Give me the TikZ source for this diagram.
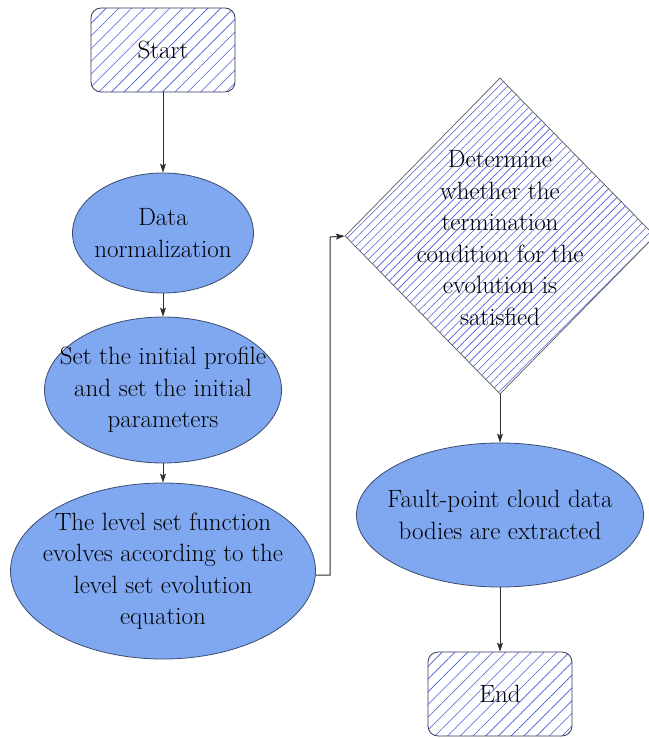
\documentclass[tikz,border=0pt]{standalone}
\usepackage{fontspec}
\usetikzlibrary{shapes.geometric,arrows.meta,patterns.meta}
\definecolor{ellfill}{RGB}{127,168,240}
\definecolor{ellborder}{RGB}{60,75,110}
\definecolor{hatch}{RGB}{70,90,220}
\definecolor{boxborder}{RGB}{50,55,90}
\definecolor{linec}{RGB}{45,45,45}
\begin{document}
\begin{tikzpicture}[x=1pt,y=-1pt,
  every node/.style={font=\rmfamily\fontsize{25}{31.5}\selectfont, align=center, text=black},
  termbox/.style={draw=boxborder, line width=0.8pt, rounded corners=10pt, fill=white,
    pattern={Lines[angle=45,distance=9pt,line width=0.6pt]}, pattern color=hatch,
    minimum width=144pt, minimum height=84pt, inner sep=0pt},
  procell/.style={ellipse, draw=ellborder, line width=0.8pt, fill=ellfill,
    inner xsep=-30pt, inner ysep=-25pt},
  decbox/.style={diamond, draw=gray!70!black, line width=0.7pt,
    pattern={Lines[angle=45,distance=6pt,line width=0.6pt]}, pattern color=hatch,
    minimum width=310pt, minimum height=316pt, inner sep=0pt},
  conn/.style={draw=linec, line width=1pt, -{Stealth[length=9pt,width=6pt,inset=2pt]}}]
\useasboundingbox (0,0) rectangle (648,738);
\node[termbox] (start) at (163,50) {};
\node (starttext) at (163,50) {Start};
\node[procell, minimum width=181pt, minimum height=120pt] (data) at (163,233) {Data\\normalization};
\node[procell, minimum width=237pt, minimum height=146pt] (set) at (163,390) {Set the initial profile\\and set the initial\\parameters};
\node[procell, minimum width=305pt, minimum height=176pt] (level) at (163,571) {The level set function\\evolves according to the\\level set evolution\\equation};
\node[decbox] (dec) at (500,236) {};
\node (dectext) at (500,238) {Determine\\whether the\\termination\\condition for the\\evolution is\\satisfied};
\node[procell, minimum width=287pt, minimum height=144pt] (fault) at (500,515) {Fault-point cloud data\\bodies are extracted};
\node[termbox] (end) at (500,694) {};
\node (endtext) at (500,694) {End};
\coordinate (bend1) at (330,575);
\coordinate (bend2) at (330,237);
\draw[conn] (start.south) -- (data.north);
\draw[conn] (data.south) -- (set.north);
\draw[conn] (set.south) -- (level.north);
\draw[conn] (level.east |- bend1) -- (bend1) -- (bend2) -- (dec.west);
\draw[conn] (dec.south) -- (fault.north);
\draw[conn] (fault.south) -- (end.north);
\end{tikzpicture}
\end{document}
